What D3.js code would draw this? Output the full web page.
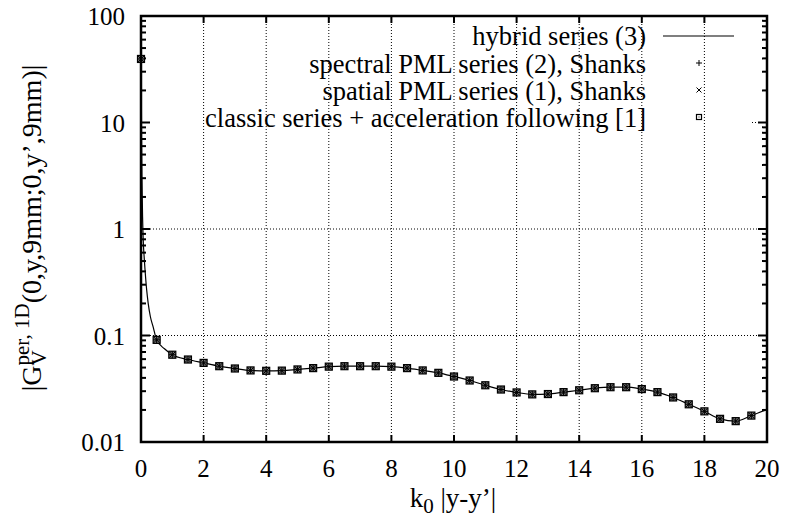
<!DOCTYPE html>
<html><head><meta charset="utf-8">
<script src="https://cdn.jsdelivr.net/npm/d3@7"></script>
<style>body{margin:0;background:#fff}svg{display:block}</style>
</head><body><svg id="c" width="785" height="527"></svg>
<script>
// ---- data ----
const xTicks = [0,2,4,6,8,10,12,14,16,18,20];
const xTickLabels = ["0","2","4","6","8","10","12","14","16","18","20"];
const yTicks = [0.01,0.1,1,10,100];
const yTickLabels = ["0.01","0.1","1","10","100"];
const legendLabels = ["hybrid series (3)","spectral PML series (2), Shanks","spatial PML series (1), Shanks","classic series + acceleration following [1]"];
// marker samples (all three reference methods coincide)
const markerX = [0,0.5,1,1.5,2,2.5,3,3.5,4,4.5,5,5.5,6,6.5,7,7.5,8,8.5,9,9.5,10,10.5,11,11.5,12,12.5,13,13.5,14,14.5,15,15.5,16,16.5,17,17.5,18,18.5,19,19.5];
const markerY = [39.5,0.091,0.066,0.0595,0.0553,0.0515,0.049,0.047,0.0466,0.0468,0.048,0.0494,0.051,0.0515,0.0515,0.0515,0.051,0.0494,0.047,0.0446,0.0412,0.0378,0.0341,0.0311,0.0292,0.028,0.0282,0.0294,0.0306,0.032,0.0327,0.0327,0.0314,0.0294,0.0262,0.0226,0.0194,0.0165,0.0157,0.0177];
// hybrid series line
const lineX = [0.004,0.01,0.02,0.03,0.05,0.07,0.1,0.13,0.18,0.23,0.3,0.39,0.5,0.75,1,1.5,2,2.5,3,3.5,4,4.5,5,5.5,6,6.5,7,7.5,8,8.5,9,9.5,10,10.5,11,11.5,12,12.5,13,13.5,14,14.5,15,15.5,16,16.5,17,17.5,18,18.5,19,19.5,20];
const lineY = [150,20,6,3,1.3,0.8,0.55,0.41,0.27,0.2,0.15,0.12,0.091,0.075,0.066,0.0595,0.0553,0.0515,0.049,0.047,0.0466,0.0468,0.048,0.0494,0.051,0.0515,0.0515,0.0515,0.051,0.0494,0.047,0.0446,0.0412,0.0378,0.0341,0.0311,0.0292,0.028,0.0282,0.0294,0.0306,0.032,0.0327,0.0327,0.0314,0.0294,0.0262,0.0226,0.0194,0.0165,0.0157,0.0177,0.0202];

// ---- layout ----
const L=141, R=767, T=16, B=442, FS=26.5, YFS=28, TFS=25, SFS=21, FONT="'Liberation Serif', 'Times New Roman', serif";
const svg = d3.select("#c");
const x = d3.scaleLinear().domain([0,20]).range([L,R]);
const y = d3.scaleLog().domain([0.01,100]).range([B,T]);
function txt(g){return g.append("text").attr("font-family",FONT).attr("fill","#000");}

// grid
const grid = svg.append("g").attr("stroke","#000").attr("stroke-width",1).attr("stroke-dasharray","1,2");
xTicks.slice(1,-1).forEach(v=>grid.append("line").attr("x1",x(v)).attr("x2",x(v)).attr("y1",B).attr("y2",T));
[0.1,1].forEach(v=>grid.append("line").attr("x1",L).attr("x2",R).attr("y1",y(v)).attr("y2",y(v)));
grid.append("line").attr("x1",752).attr("x2",R).attr("y1",y(10)).attr("y2",y(10));

// ticks
const tk = svg.append("g").attr("stroke","#000").attr("stroke-width",2);
xTicks.forEach(v=>{
  tk.append("line").attr("x1",x(v)).attr("x2",x(v)).attr("y1",B).attr("y2",B-7);
  tk.append("line").attr("x1",x(v)).attr("x2",x(v)).attr("y1",T).attr("y2",T+7);
});
yTicks.forEach(v=>{
  tk.append("line").attr("x1",L).attr("x2",L+9).attr("y1",y(v)).attr("y2",y(v));
  tk.append("line").attr("x1",R).attr("x2",R-9).attr("y1",y(v)).attr("y2",y(v));
});
yTicks.slice(0,-1).forEach(d=>{
  for(let m=2;m<=9;m++){
    const v=d*m;
    tk.append("line").attr("x1",L).attr("x2",L+5).attr("y1",y(v)).attr("y2",y(v));
    tk.append("line").attr("x1",R).attr("x2",R-5).attr("y1",y(v)).attr("y2",y(v));
  }
});

// tick labels
xTicks.forEach((v,i)=>txt(svg).attr("x",x(v)).attr("y",477).attr("text-anchor","middle").attr("font-size",TFS).text(xTickLabels[i]));
yTicks.forEach((v,i)=>txt(svg).attr("x",125).attr("y",y(v)+9).attr("text-anchor","end").attr("font-size",TFS).text(yTickLabels[i]));

// clip
svg.append("clipPath").attr("id","clip").append("rect").attr("x",L).attr("y",T).attr("width",R-L).attr("height",B-T);

// line
const lineGen = d3.line().x((d,i)=>x(lineX[i])).y(d=>y(d)).curve(d3.curveMonotoneX);
svg.append("path").attr("clip-path","url(#clip)").attr("d",lineGen(lineY)).attr("fill","none").attr("stroke","#000").attr("stroke-width",1.2);

// markers
function plus(g,cx,cy,s){g.append("path").attr("d",`M${cx-s},${cy}H${cx+s}M${cx},${cy-s}V${cy+s}`).attr("stroke","#000").attr("stroke-width",1).attr("fill","none");}
function cross(g,cx,cy,s){g.append("path").attr("d",`M${cx-s},${cy-s}L${cx+s},${cy+s}M${cx-s},${cy+s}L${cx+s},${cy-s}`).attr("stroke","#000").attr("stroke-width",1).attr("fill","none");}
function box(g,cx,cy,s,fill){g.append("rect").attr("x",cx-s).attr("y",cy-s).attr("width",2*s).attr("height",2*s).attr("fill",fill).attr("stroke","#000").attr("stroke-width",1.2);}
const mk = svg.append("g");
markerX.forEach((xv,i)=>{
  const cx=x(xv), cy=y(markerY[i]);
  box(mk,cx,cy,3.5,"#777");
  plus(mk,cx,cy,3.5);
  cross(mk,cx,cy,3);
});

// frame
svg.append("rect").attr("x",L).attr("y",T).attr("width",R-L).attr("height",B-T).attr("fill","none").attr("stroke","#000").attr("stroke-width",2.5);

// legend
const legBase=[45,73,100,127];
legendLabels.forEach((t,i)=>txt(svg).attr("x",646).attr("y",legBase[i]).attr("text-anchor","end").attr("font-size",FS).text(t));
svg.append("line").attr("x1",663).attr("x2",734).attr("y1",legBase[0]-9).attr("y2",legBase[0]-9).attr("stroke","#000").attr("stroke-width",1.2);
plus(svg,699,legBase[1]-10,3);
cross(svg,699,legBase[2]-10,2.5);
box(svg,699,legBase[3]-10,2.5,"#fff");
svg.append("rect").attr("x",698.5).attr("y",legBase[3]-10.5).attr("width",1).attr("height",1).attr("fill","#000");

// x label
const xl = txt(svg).attr("x",453).attr("y",507).attr("text-anchor","middle").attr("font-size",27);
xl.append("tspan").text("k");
xl.append("tspan").attr("font-size",SFS).attr("dy",6).text("0");
xl.append("tspan").attr("dy",-6).text(" |y-y’|");

// y label (rotated)
const yg = svg.append("g");
let cur=0;
const t1 = txt(yg).attr("font-size",YFS).attr("x",0).attr("y",0).text("|G");
cur += t1.node().getComputedTextLength();
const tV = txt(yg).attr("font-size",SFS).attr("x",cur).attr("y",5).text("V");
const tS = txt(yg).attr("font-size",SFS).attr("x",cur).attr("y",-12).text("per, 1D");
cur += Math.max(tV.node().getComputedTextLength(), tS.node().getComputedTextLength());
const t2 = txt(yg).attr("font-size",YFS).attr("x",cur).attr("y",0).text("(0,y,9mm;0,y’,9mm)|");
cur += t2.node().getComputedTextLength();
yg.attr("transform",`translate(41,${228+cur/2}) rotate(-90)`);
</script></body></html>
